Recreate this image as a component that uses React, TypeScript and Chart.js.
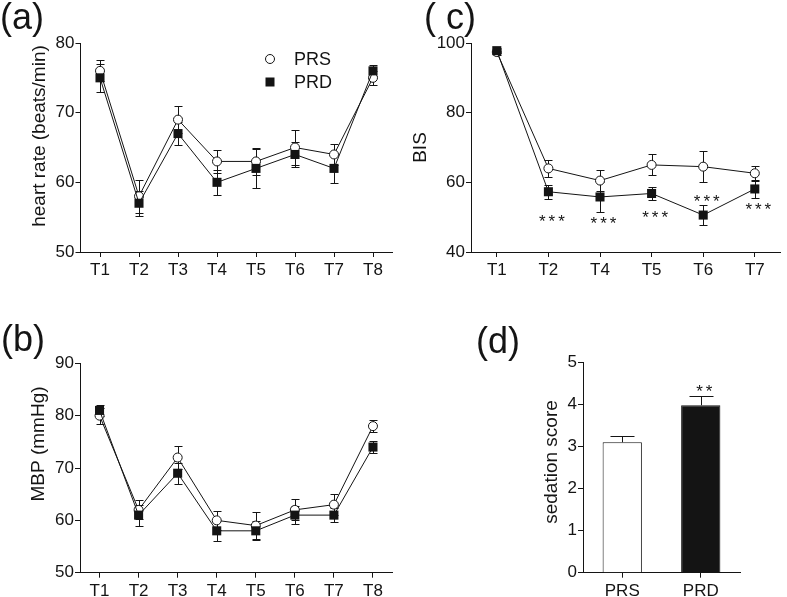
import React, { useEffect, useRef } from 'react';
import { Chart, registerables } from 'chart.js';

Chart.register(...registerables);

// ---------------- data ----------------
const hrLabels = ['T1', 'T2', 'T3', 'T4', 'T5', 'T6', 'T7', 'T8'];
const hrPRS = [76, 58, 69, 63, 63, 65, 64, 75];
const hrPRSErr = [1.5, 2.4, 1.9, 1.6, 1.9, 2.5, 1.5, 1.0];
const hrPRD = [75, 57, 67, 60, 62, 64, 62, 76];
const hrPRDErr = [2.0, 1.8, 1.6, 1.8, 2.8, 1.8, 2.1, 0.8];

const mbpLabels = ['T1', 'T2', 'T3', 'T4', 'T5', 'T6', 'T7', 'T8'];
const mbpPRS = [80, 62, 72, 60, 59, 62, 63, 78];
const mbpPRSErr = [1.5, 1.8, 2.2, 1.8, 2.5, 2.0, 2.0, 1.2];
const mbpPRD = [81, 61, 69, 58, 58, 61, 61, 74];
const mbpPRDErr = [1.0, 2.0, 2.0, 2.0, 1.8, 1.7, 1.4, 1.2];

const bisLabels = ['T1', 'T2', 'T4', 'T5', 'T6', 'T7'];
const bisPRS = [97.4, 64, 60.5, 65, 64.5, 62.6];
const bisPRSErr = [0.8, 2.5, 3.0, 3.0, 4.5, 2.2];
const bisPRD = [97.8, 57.3, 55.8, 56.8, 50.6, 58.1];
const bisPRDErr = [0.8, 2.0, 4.3, 2.0, 2.8, 2.5];
const bisStarIdx = [1, 2, 3, 4, 5];
const bisStarVal = [50.1, 49.4, 51.1, 55.9, 53.4];

const sedLabels = ['PRS', 'PRD'];
const sedValues = [3.1, 3.98];
const sedErr = [0.15, 0.22];
const sedStarIdx = [1];
const sedStarVal = [4.42];

// ---------------- style ----------------
const INK = '#141414';
const FONT = "'Liberation Sans', Arial, Helvetica, sans-serif";

type ErrCfg = { datasetIndex: number; errs: number[]; both: boolean; cap: number };
type Overlay = {
  label?: { text: string; x: number; y: number };
  yTitle?: { text: string; x: number; y: number };
  errors?: ErrCfg[];
  stars?: { idx: number[]; val: number[]; text: string };
  legend?: { x: number; y: number; gap: number };
};

function overlayPlugin(cfg: Overlay) {
  return {
    id: 'overlay',
    beforeDatasetsDraw(chart: any) {
      const ctx = chart.ctx;
      const ys = chart.scales.y;
      ctx.save();
      ctx.strokeStyle = INK;
      ctx.lineWidth = 1;
      (cfg.errors || []).forEach((e) => {
        const meta = chart.getDatasetMeta(e.datasetIndex);
        const data = chart.data.datasets[e.datasetIndex].data as number[];
        meta.data.forEach((el: any, j: number) => {
          const v = data[j];
          const err = e.errs[j];
          const x = Math.round(el.x) + 0.5;
          const yTop = Math.round(ys.getPixelForValue(v + err)) + 0.5;
          const yBot = e.both ? Math.round(ys.getPixelForValue(v - err)) + 0.5 : ys.getPixelForValue(v);
          ctx.beginPath();
          ctx.moveTo(x, yTop);
          ctx.lineTo(x, yBot);
          ctx.moveTo(x - e.cap, yTop);
          ctx.lineTo(x + e.cap, yTop);
          if (e.both) {
            ctx.moveTo(x - e.cap, yBot);
            ctx.lineTo(x + e.cap, yBot);
          }
          ctx.stroke();
        });
      });
      ctx.restore();
    },
    afterDraw(chart: any) {
      const ctx = chart.ctx;
      ctx.save();
      ctx.fillStyle = INK;
      if (cfg.label) {
        ctx.font = `36px ${FONT}`;
        ctx.textAlign = 'left';
        ctx.textBaseline = 'alphabetic';
        ctx.fillText(cfg.label.text, cfg.label.x, cfg.label.y);
      }
      if (cfg.yTitle) {
        ctx.save();
        ctx.translate(cfg.yTitle.x, cfg.yTitle.y);
        ctx.rotate(-Math.PI / 2);
        ctx.font = `19px ${FONT}`;
        ctx.textAlign = 'center';
        ctx.textBaseline = 'middle';
        ctx.fillText(cfg.yTitle.text, 0, 0);
        ctx.restore();
      }
      if (cfg.stars) {
        const xs = chart.scales.x;
        const ys = chart.scales.y;
        ctx.font = `17px ${FONT}`;
        ctx.textAlign = 'center';
        ctx.textBaseline = 'alphabetic';
        (ctx as any).letterSpacing = '3px';
        cfg.stars.idx.forEach((i, k) => {
          const x = xs.getPixelForValue(i) + 5;
          const y = ys.getPixelForValue(cfg.stars!.val[k]) + 10;
          ctx.fillText(cfg.stars!.text, x, y);
        });
        (ctx as any).letterSpacing = '0px';
      }
      if (cfg.legend) {
        const { x, y, gap } = cfg.legend;
        ctx.strokeStyle = INK;
        ctx.lineWidth = 1;
        ctx.fillStyle = '#fff';
        ctx.beginPath();
        ctx.arc(x, y, 4.5, 0, Math.PI * 2);
        ctx.fill();
        ctx.stroke();
        ctx.fillStyle = INK;
        ctx.fillRect(x - 4.5, y + gap - 4.5, 9, 9);
        ctx.font = `18px ${FONT}`;
        ctx.textAlign = 'left';
        ctx.textBaseline = 'middle';
        ctx.fillText('PRS', x + 24, y + 1);
        ctx.fillText('PRD', x + 24, y + gap + 1);
      }
      ctx.restore();
    },
  };
}

function yAxis(min: number, max: number, step: number, width: number) {
  return {
    min,
    max,
    ticks: { stepSize: step, font: { size: 17, family: FONT }, color: INK, padding: 1 },
    grid: { display: true, drawOnChartArea: false, drawTicks: true, tickLength: 5, color: INK, lineWidth: 1 },
    border: { display: true, color: INK, width: 1 },
    afterFit: (s: any) => {
      s.width = width;
    },
  };
}

function xAxis(height: number) {
  return {
    type: 'category',
    offset: true,
    ticks: { font: { size: 17, family: FONT }, color: INK, padding: 3, maxRotation: 0, autoSkip: false },
    grid: { display: true, offset: false, drawOnChartArea: false, drawTicks: true, tickLength: 5, color: INK, lineWidth: 1 },
    border: { display: true, color: INK, width: 1 },
    afterFit: (s: any) => {
      s.height = height;
    },
  };
}

function lineSets(prs: number[], prd: number[]) {
  return [
    {
      label: 'PRS',
      data: prs,
      order: 2,
      borderColor: INK,
      borderWidth: 1,
      pointStyle: 'circle',
      pointRadius: 4.5,
      pointBackgroundColor: '#fff',
      pointBorderColor: INK,
      pointBorderWidth: 1,
      tension: 0,
      fill: false,
      clip: false,
    },
    {
      label: 'PRD',
      data: prd,
      order: 1,
      borderColor: INK,
      borderWidth: 1,
      pointStyle: 'rect',
      pointRadius: 6.4,
      pointBackgroundColor: INK,
      pointBorderColor: INK,
      pointBorderWidth: 0,
      tension: 0,
      fill: false,
      clip: false,
    },
  ];
}

function baseOptions(padding: any, scales: any) {
  return {
    responsive: false,
    maintainAspectRatio: false,
    animation: false,
    devicePixelRatio: 1,
    events: [],
    layout: { padding },
    plugins: { legend: { display: false }, tooltip: { enabled: false }, title: { display: false } },
    scales,
  };
}

function buildA(): any {
  return {
    type: 'line',
    data: { labels: hrLabels, datasets: lineSets(hrPRS, hrPRD) },
    options: baseOptions({ left: 0, top: 43, right: 7.5, bottom: 0 }, { x: xAxis(38), y: yAxis(50, 80, 10, 80.5) }),
    plugins: [
      overlayPlugin({
        label: { text: '(a)', x: 0, y: 29 },
        yTitle: { text: 'heart rate (beats/min)', x: 40, y: 136 },
        errors: [
          { datasetIndex: 0, errs: hrPRSErr, both: true, cap: 4 },
          { datasetIndex: 1, errs: hrPRDErr, both: true, cap: 4 },
        ],
        legend: { x: 270, y: 59, gap: 23 },
      }),
    ],
  };
}

function buildB(): any {
  return {
    type: 'line',
    data: { labels: mbpLabels, datasets: lineSets(mbpPRS, mbpPRD) },
    options: baseOptions({ left: 0, top: 73.3, right: 7.5, bottom: 0 }, { x: xAxis(24.3), y: yAxis(50, 90, 10, 80) }),
    plugins: [
      overlayPlugin({
        label: { text: '(b)', x: 1, y: 61 },
        yTitle: { text: 'MBP (mmHg)', x: 39, y: 154 },
        errors: [
          { datasetIndex: 0, errs: mbpPRSErr, both: true, cap: 4 },
          { datasetIndex: 1, errs: mbpPRDErr, both: true, cap: 4 },
        ],
      }),
    ],
  };
}

function buildC(): any {
  return {
    type: 'line',
    data: { labels: bisLabels, datasets: lineSets(bisPRS, bisPRD) },
    options: baseOptions({ left: 0, top: 43, right: 2, bottom: 0 }, { x: xAxis(38), y: yAxis(40, 100, 20, 71) }),
    plugins: [
      overlayPlugin({
        label: { text: '( c)', x: 24, y: 29 },
        yTitle: { text: 'BIS', x: 20.5, y: 147.5 },
        errors: [
          { datasetIndex: 0, errs: bisPRSErr, both: true, cap: 4 },
          { datasetIndex: 1, errs: bisPRDErr, both: true, cap: 4 },
        ],
        stars: { idx: bisStarIdx, val: bisStarVal, text: '***' },
      }),
    ],
  };
}

function buildD(): any {
  return {
    type: 'bar',
    data: {
      labels: sedLabels,
      datasets: [
        {
          data: sedValues,
          backgroundColor: ['#ffffff', INK],
          borderColor: INK,
          borderWidth: 1,
          barPercentage: 0.5,
          categoryPercentage: 1,
        },
      ],
    },
    options: baseOptions({ left: 0, top: 72.3, right: 47, bottom: 0 }, { x: xAxis(24.3), y: yAxis(0, 5, 1, 183) }),
    plugins: [
      overlayPlugin({
        label: { text: '(d)', x: 76, y: 63 },
        yTitle: { text: 'sedation score', x: 152, y: 462 - 290 },
        errors: [{ datasetIndex: 0, errs: sedErr, both: false, cap: 12 }],
        stars: { idx: sedStarIdx, val: sedStarVal, text: '**' },
      }),
    ],
  };
}

function Panel(props: { left: number; top: number; width: number; height: number; build: () => any }) {
  const ref = useRef<HTMLCanvasElement>(null);
  useEffect(() => {
    const chart = new Chart(ref.current as HTMLCanvasElement, props.build());
    return () => chart.destroy();
  }, []);
  return (
    <canvas
      ref={ref}
      width={props.width}
      height={props.height}
      style={{ position: 'absolute', left: props.left, top: props.top, width: props.width, height: props.height }}
    />
  );
}

export default function App() {
  return (
    <div style={{ position: 'absolute', left: 0, top: 0, width: 787, height: 597, background: '#fff', overflow: 'hidden' }}>
      <Panel left={0} top={0} width={400} height={290} build={buildA} />
      <Panel left={400} top={0} width={387} height={290} build={buildC} />
      <Panel left={0} top={290} width={400} height={307} build={buildB} />
      <Panel left={400} top={290} width={387} height={307} build={buildD} />
    </div>
  );
}
